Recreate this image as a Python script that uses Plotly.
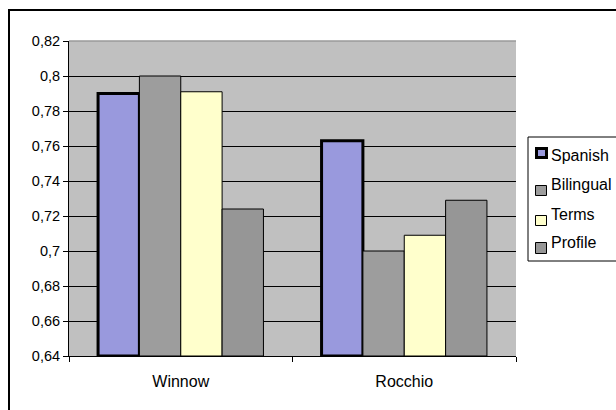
import plotly.graph_objects as go

categories = ["Winnow", "Rocchio"]
series_names = ["Spanish", "Bilingual", "Terms", "Profile"]
spanish = [0.790, 0.763]
bilingual = [0.800, 0.700]
terms = [0.791, 0.709]
profile = [0.724, 0.729]

Y_MIN, Y_MAX, Y_STEP = 0.64, 0.82, 0.02

W, H = 616, 410
ML, MR, MT, MB = 69, 100, 41, 54
PW, PH = W - ML - MR, H - MT - MB

def px_x(p):
    return (p - ML) / PW

def px_y(p):
    return (H - MB - p) / PH

styles = {
    "Spanish": dict(color="#9999dd", line=dict(color="black", width=3)),
    "Bilingual": dict(color="#9c9c9c", line=dict(color="black", width=1),
                      pattern=dict(shape="-", size=2, solidity=0.5,
                                   fgcolor="#8a8a8a", bgcolor="#a3a3a3", fillmode="overlay")),
    "Terms": dict(color="#ffffcc", line=dict(color="black", width=1)),
    "Profile": dict(color="#969696", line=dict(color="black", width=1)),
}

data = {"Spanish": spanish, "Bilingual": bilingual, "Terms": terms, "Profile": profile}

fig = go.Figure()
for name in series_names:
    vals = data[name]
    fig.add_trace(go.Bar(
        x=categories,
        y=[v - Y_MIN for v in vals],
        base=Y_MIN,
        name=name,
        marker=styles[name],
        customdata=vals,
        showlegend=False,
        hovertemplate="%{x}: %{customdata}<extra>" + name + "</extra>",
    ))

FAM = "Liberation Sans, Arial, sans-serif"

# legend drawn as shapes + text (layout positions in pixels)
legend_rows = [  # (swatch x0, y0, x1, y1, text center y)
    (535, 147, 548, 159, 155),
    (535, 185, 547, 196, 184),
    (535, 215, 547, 226, 214),
    (535, 242, 547, 254, 243),
]
swatch_fill = {"Spanish": "#9999dd", "Bilingual": "#9c9c9c", "Terms": "#ffffcc", "Profile": "#969696"}
swatch_line = {"Spanish": 3, "Bilingual": 1, "Terms": 1, "Profile": 1}

shapes = [
    dict(type="rect", xref="paper", yref="paper",
         x0=px_x(9), x1=px_x(625), y0=px_y(420), y1=px_y(10),
         line=dict(color="black", width=2), fillcolor="rgba(0,0,0,0)", layer="below"),
    dict(type="rect", xref="paper", yref="paper",
         x0=px_x(528), x1=px_x(625), y0=px_y(261), y1=px_y(137),
         line=dict(color="black", width=1), fillcolor="rgba(0,0,0,0)"),
    # soft top edge of the plot area
    dict(type="line", xref="paper", yref="paper", x0=0, x1=1, y0=1, y1=1,
         line=dict(color="#9a9a9a", width=1.5)),
]
annotations = []
for name, (x0, y0, x1, y1, ty) in zip(series_names, legend_rows):
    lw = swatch_line[name]
    shapes.append(dict(type="rect", xref="paper", yref="paper",
                       x0=px_x(x0 + lw / 2), x1=px_x(x1 - lw / 2),
                       y0=px_y(y1 - lw / 2), y1=px_y(y0 + lw / 2),
                       line=dict(color="black", width=lw),
                       fillcolor=swatch_fill[name]))
    annotations.append(dict(xref="paper", yref="paper", x=px_x(549), y=px_y(ty),
                            xanchor="left", yanchor="middle", showarrow=False,
                            text=name, font=dict(family=FAM, size=16, color="black")))

fig.update_layout(
    width=W, height=H,
    margin=dict(l=ML, r=MR, t=MT, b=MB, autoexpand=False),
    paper_bgcolor="white",
    plot_bgcolor="#c0c0c0",
    font=dict(family=FAM, size=16, color="black"),
    separators=", ",
    barmode="group",
    bargap=0.26,
    bargroupgap=0,
    showlegend=False,
    xaxis=dict(
        showline=True, linecolor="black", linewidth=1,
        ticks="outside", ticklen=5, tickcolor="black",
        tickson="boundaries",
        ticklabelstandoff=11,
        tickfont=dict(family=FAM, size=16, color="black"),
        showgrid=False,
    ),
    yaxis=dict(
        range=[Y_MIN, Y_MAX],
        dtick=Y_STEP, tick0=Y_MIN,
        showline=True, linecolor="black", linewidth=1,
        ticks="outside", ticklen=5, tickcolor="black",
        tickfont=dict(family=FAM, size=14.5, color="black"),
        showgrid=True, gridcolor="black", gridwidth=1,
        zeroline=False,
    ),
    shapes=shapes,
    annotations=annotations,
)

fig.write_html("out.html")
